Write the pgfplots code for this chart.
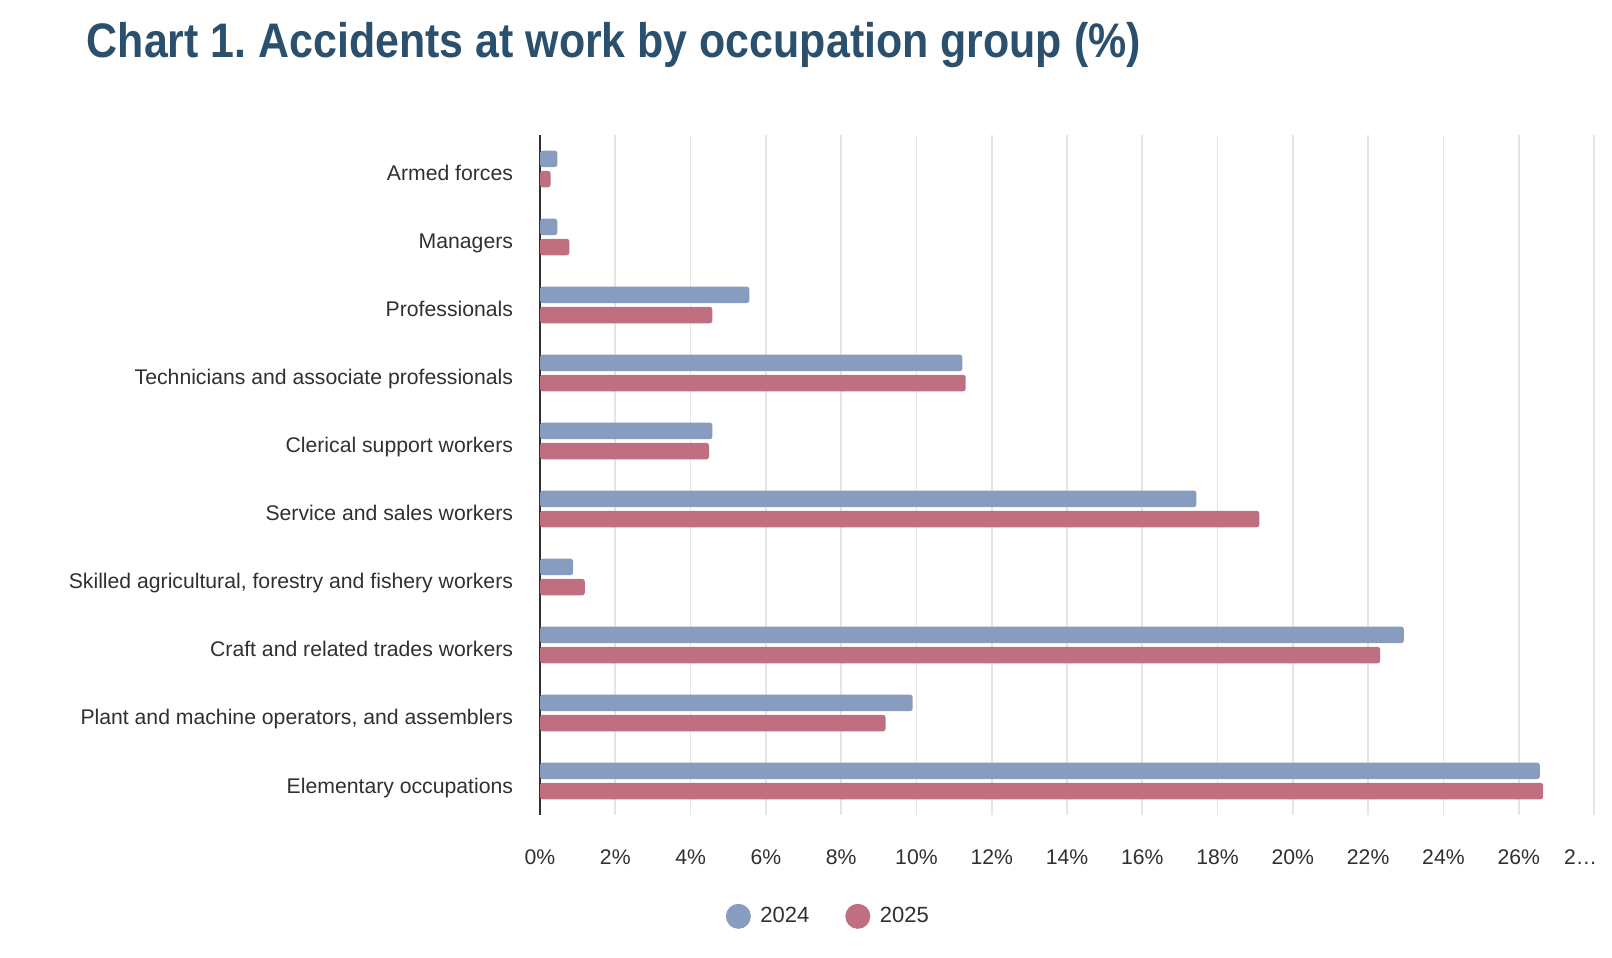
\documentclass[border=0pt]{standalone}
\usepackage{fontspec}
\setmainfont{Liberation Sans}
\newfontfamily\titlefont[FakeStretch=0.885]{Liberation Sans}
\usepackage{pgfplots}
\pgfplotsset{compat=1.18}
\definecolor{c24}{RGB}{135,156,190}
\definecolor{c25}{RGB}{191,111,128}
\definecolor{titlec}{RGB}{42,80,110}
\definecolor{txt}{RGB}{48,48,48}
\definecolor{gridc}{RGB}{229,229,229}
\begin{document}
\frenchspacing
\begin{tikzpicture}
\path[use as bounding box] (0,0) rectangle (806bp,479bp);
\node[anchor=base west, inner sep=0pt, text=titlec, font=\titlefont\bfseries\fontsize{24.25bp}{29bp}\selectfont] at (43.2bp,450.35bp) {Chart 1. Accidents at work by occupation group (\%)};
\begin{axis}[
  at={(270bp,71.5bp)}, anchor=south west,
  scale only axis, width=527bp, height=340bp,
  xmin=0, xmax=28, ymin=-0.5, ymax=9.5,
  xtick={0,2,...,28},
  xticklabels={0\%,2\%,4\%,6\%,8\%,10\%,12\%,14\%,16\%,18\%,20\%,22\%,24\%,26\%,\makebox[30bp][l]{2…}},
  ytick={0,...,9},
  yticklabels={Elementary occupations,{Plant and machine operators, and assemblers},Craft and related trades workers,{Skilled agricultural, forestry and fishery workers},Service and sales workers,Clerical support workers,Technicians and associate professionals\hspace{1.4bp},Professionals,Managers,Armed forces},
  major tick length=0pt,
  tick style={draw=none},
  axis line style={draw=none},
  xmajorgrids=true,
  major grid style={draw=gridc, line width=0.9bp},
  extra x ticks={0},
  extra x tick labels={},
  extra x tick style={major grid style={draw=txt, line width=1bp}},
  xticklabel style={anchor=base, inner sep=0pt, yshift=-24.8bp, font=\fontsize{10.6bp}{12bp}\selectfont, text=txt},
  yticklabel style={anchor=base east, inner sep=0pt, xshift=-13.3bp, yshift=-6bp, font=\fontsize{10.6bp}{12bp}\selectfont, text=txt},
  legend columns=2,
  legend style={at={(0.1760,-0.1490)}, anchor=west, draw=none, fill=none, inner sep=0pt,
    nodes={inner sep=0pt},
    font=\fontsize{11bp}{13bp}\selectfont, text=txt,
    /tikz/every odd column/.append style={column sep=4.75bp},
    /tikz/every even column/.append style={column sep=18bp}},
]
\addplot[xbar, bar width=8.25bp, bar shift=5.05bp, fill=c24, draw=none, rounded corners=1.3bp,
  legend image code/.code={\fill[c24] (6.25bp,0bp) circle (6.25bp);}]
  coordinates {(26.56,0) (9.90,1) (22.95,2) (0.88,3) (17.44,4) (4.58,5) (11.22,6) (5.56,7) (0.46,8) (0.46,9)};
\addlegendentry{2024}
\addplot[xbar, bar width=8.25bp, bar shift=-5.05bp, fill=c25, draw=none, rounded corners=1.3bp,
  legend image code/.code={\fill[c25] (6.25bp,0bp) circle (6.25bp);}]
  coordinates {(26.65,0) (9.18,1) (22.32,2) (1.19,3) (19.11,4) (4.49,5) (11.31,6) (4.58,7) (0.78,8) (0.28,9)};
\addlegendentry{2025}
\end{axis}
\end{tikzpicture}
\end{document}
